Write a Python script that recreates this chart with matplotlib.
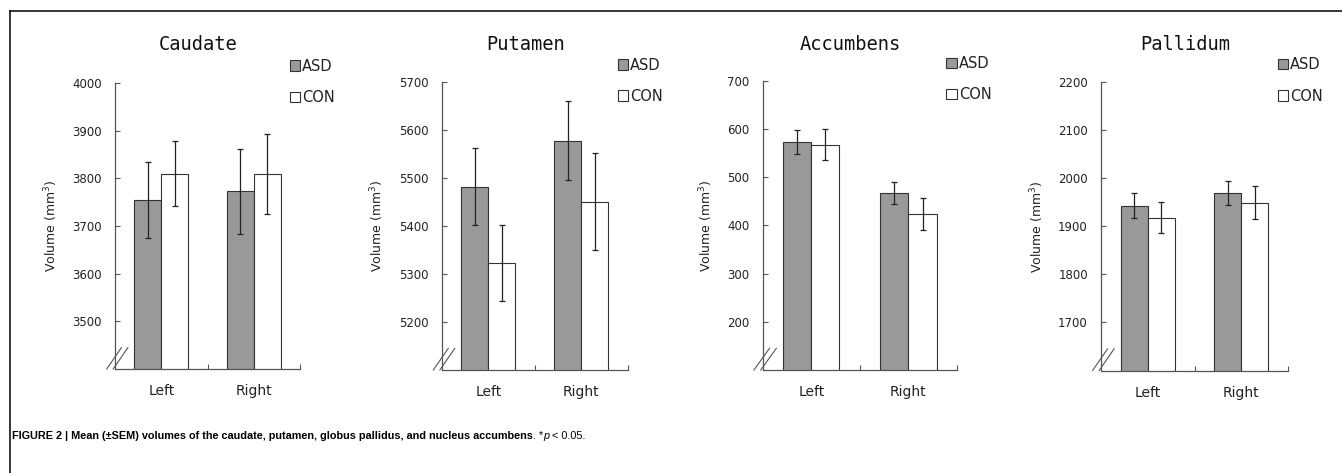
import matplotlib
matplotlib.use("Agg")
import matplotlib.pyplot as plt
import matplotlib.transforms as mtransforms
import numpy as np

# ---------------- data ----------------
regions = ["Caudate", "Putamen", "Accumbens", "Pallidum"]
sides = ["Left", "Right"]
groups = ["ASD", "CON"]

caudate_asd = [3755, 3773]
caudate_con = [3810, 3810]
caudate_asd_sem = [80, 89]
caudate_con_sem = [69, 84]

putamen_asd = [5482, 5578]
putamen_con = [5323, 5451]
putamen_asd_sem = [80, 82]
putamen_con_sem = [80, 101]

accumbens_asd = [574, 467]
accumbens_con = [568, 424]
accumbens_asd_sem = [25, 23]
accumbens_con_sem = [33, 33]

pallidum_asd = [1943, 1970]
pallidum_con = [1918, 1949]
pallidum_asd_sem = [26, 25]
pallidum_con_sem = [33, 34]

ylims = [(3400, 4000), (5100, 5700), (100, 700), (1600, 2200)]
yticks = [[3500, 3600, 3700, 3800, 3900, 4000],
          [5200, 5300, 5400, 5500, 5600, 5700],
          [200, 300, 400, 500, 600, 700],
          [1700, 1800, 1900, 2000, 2100, 2200]]

caption_bold = "FIGURE 2 | Mean (\u00b1SEM) volumes of the caudate, putamen, globus pallidus, and nucleus accumbens"
caption_rest = [". *", "p", " < 0.05."]

asd_vals = [caudate_asd, putamen_asd, accumbens_asd, pallidum_asd]
con_vals = [caudate_con, putamen_con, accumbens_con, pallidum_con]
asd_sems = [caudate_asd_sem, putamen_asd_sem, accumbens_asd_sem, pallidum_asd_sem]
con_sems = [caudate_con_sem, putamen_con_sem, accumbens_con_sem, pallidum_con_sem]

# ---------------- layout ----------------
W, H = 1342, 473
fig = plt.figure(figsize=(W / 100, H / 100), dpi=100)
axes_px = [(115, 83, 300, 369), (441.7, 82, 628, 370), (762.7, 81, 957, 370), (1101, 82, 1288, 370.5)]

asd_color = "#999999"
edge_color = "#333333"
axis_color = "#555555"
text_color = "#222222"
bw = 0.29

for i, (x0, y0, x1, y1) in enumerate(axes_px):
    ax = fig.add_axes([x0 / W, 1 - y1 / H, (x1 - x0) / W, (y1 - y0) / H])
    x = np.arange(len(sides))
    ax.bar(x - bw / 2, asd_vals[i], bw, color=asd_color, edgecolor=edge_color,
           linewidth=0.8, label=groups[0], zorder=2)
    ax.bar(x + bw / 2, con_vals[i], bw, color="white", edgecolor=edge_color,
           linewidth=0.8, label=groups[1], zorder=2)
    ax.errorbar(x - bw / 2, asd_vals[i], yerr=asd_sems[i], fmt="none",
                ecolor="#222222", elinewidth=0.9, capsize=2.2, capthick=0.9, zorder=3)
    ax.errorbar(x + bw / 2, con_vals[i], yerr=con_sems[i], fmt="none",
                ecolor="#222222", elinewidth=0.9, capsize=2.2, capthick=0.9, zorder=3)

    ax.set_xlim(-0.5, 1.5)
    ax.set_ylim(*ylims[i])
    ax.set_yticks(yticks[i])
    ax.set_xticks(x)
    ax.set_xticklabels(sides)
    ax.set_xticks([0.5, 1.5], minor=True)
    ax.tick_params(axis="x", which="major", length=0, pad=11, labelsize=10, labelcolor=text_color)
    ax.tick_params(axis="x", which="minor", direction="in", length=3.5, width=0.8, color=axis_color)
    ax.tick_params(axis="y", direction="in", length=3.5, width=0.8, color=axis_color,
                   pad=9.5, labelsize=8.5, labelcolor=text_color)
    for s in ["top", "right"]:
        ax.spines[s].set_visible(False)
    for s in ["left", "bottom"]:
        ax.spines[s].set_color(axis_color)
        ax.spines[s].set_linewidth(0.9)
    ax.set_ylabel("Volume (mm$^3$)", fontsize=9, color=text_color, labelpad=9)

    # axis break marks
    for dx in (0.0, 0.035):
        ax.plot([-0.045 + dx, 0.035 + dx], [0.0, 0.075], transform=ax.transAxes,
                color=axis_color, linewidth=0.8, clip_on=False, zorder=4)

    trans = mtransforms.blended_transform_factory(ax.transAxes, fig.transFigure)
    ax.text(0.45, 1 - 44 / H, regions[i], transform=trans, ha="center", va="center",
            fontsize=13.5, family="DejaVu Sans Mono", color="#111111")

    ax.legend(loc="upper left", bbox_to_anchor=(0.945, 1.085), frameon=False,
              borderpad=0, borderaxespad=0, handlelength=0.7, handleheight=0.7,
              handletextpad=0.15, labelspacing=1.1, fontsize=10.5, labelcolor=text_color)

# figure frame lines (top and left)
fig.add_artist(plt.Line2D([9.5 / W, 1.0], [1 - 11.5 / H, 1 - 11.5 / H], color="black", linewidth=1.1))
fig.add_artist(plt.Line2D([9.5 / W, 9.5 / W], [0.0, 1 - 11.5 / H], color="black", linewidth=1.1))

# caption
fam = ["Liberation Sans Narrow", "Liberation Sans"]
cy = 1 - 436 / H
fs = 7.8
t = fig.text(12 / W, cy, caption_bold, fontsize=fs, fontweight="bold",
             family=fam, va="center", ha="left")
styles = ["normal", "italic", "normal"]
renderer = fig.canvas.get_renderer()
for part, st in zip(caption_rest, styles):
    fig.canvas.draw()
    bb = t.get_window_extent(renderer=renderer)
    t = fig.text(bb.x1 / W, cy, part, fontsize=fs, family=fam, style=st, va="center", ha="left")

fig.savefig("out.png", dpi=100)
